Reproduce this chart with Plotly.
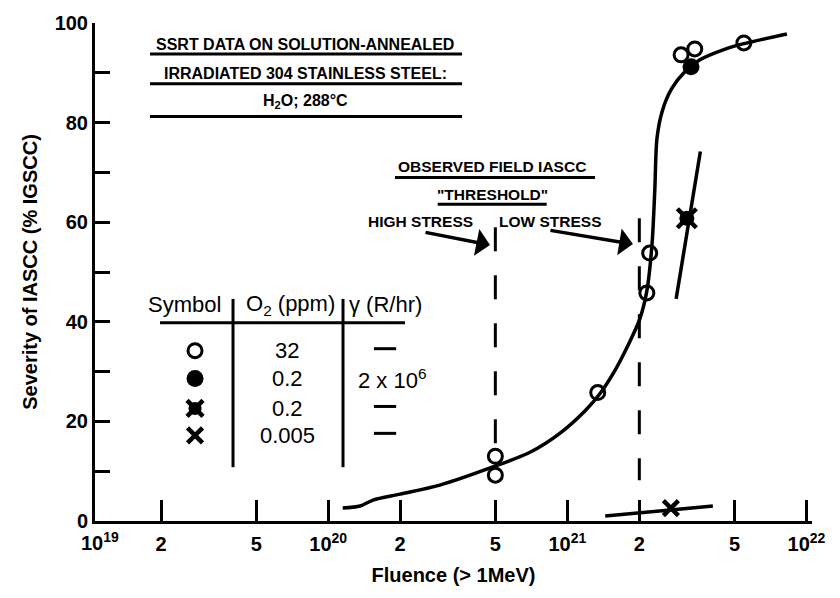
import math
import plotly.graph_objects as go

# ---------------- data ----------------
# fitted trend curve through the 32 ppm O2 data
curve_fluence = [1.15e20, 1.36e20, 1.54e20, 2.0e20, 2.93e20, 4.98e20, 6.98e20, 9.3e20,
                 1.19e21, 1.37e21, 1.58e21, 1.79e21, 2.01e21, 2.15e21, 2.26e21, 2.32e21,
                 2.37e21, 2.49e21, 2.73e21, 3.10e21, 3.58e21, 4.48e21, 5.42e21, 8.28e21]
curve_severity = [2.6, 3.0, 4.2, 5.4, 7.2, 11.0, 13.8, 17.6,
                  22.2, 25.6, 30.2, 35.2, 40.6, 46.2, 55.6, 66.2,
                  76.8, 82.2, 86.8, 90.2, 92.6, 94.6, 95.8, 97.8]

# O2 = 32 ppm (open circles)
o32_fluence = [5.0e20, 5.0e20, 1.34e21, 2.15e21, 2.21e21, 2.99e21, 3.41e21, 5.47e21]
o32_severity = [13.0, 9.2, 25.8, 45.8, 53.8, 93.6, 94.8, 96.0]

# O2 = 0.2 ppm, gamma 2x10^6 R/hr (filled circles)
o02g_fluence = [3.29e21]
o02g_severity = [91.2]

# O2 = 0.2 ppm, no gamma (filled circle with cross)
o02_fluence = [3.16e21]
o02_severity = [60.8]

# O2 = 0.005 ppm (x)
o0005_fluence = [2.71e21]
o0005_severity = [2.6]

# trend lines for the low-O2 data
line02_fluence = [2.85e21, 3.6e21]
line02_severity = [44.6, 74.2]
line0005_fluence = [1.44e21, 4.06e21]
line0005_severity = [1.0, 3.0]

# observed field IASCC thresholds (dashed verticals)
high_stress_fluence = 5.0e20
high_stress_span = [59.0, 14.8]
low_stress_fluence = 2.0e21
low_stress_span = [60.8, 8.2]

# axis ticks
x_tickvals = [2e19, 5e19, 1e20, 2e20, 5e20, 1e21, 2e21, 5e21, 1e22]
x_ticktext = ["2", "5", "10<sup>20</sup>", "2", "5", "10<sup>21</sup>", "2", "5", "10<sup>22</sup>"]
y_tickvals = [0, 20, 40, 60, 80, 100]

# legend table rows
legend_o2 = ["32", "0.2", "0.2", "0.005"]
legend_gamma = ["—", "2 x 10<sup>6</sup>", "—", "—"]

FONT = "Liberation Sans, Arial, Helvetica, sans-serif"
BLACK = "#000000"

# marker styles
OPEN = dict(symbol="circle-open", size=14, color=BLACK, line=dict(width=3, color=BLACK))
FILLED = dict(symbol="circle", size=17, color=BLACK)
CROSS_ARMS = dict(symbol="x-thin-open", size=19, color=BLACK, line=dict(width=4.5, color=BLACK))
CROSS_BODY = dict(symbol="circle", size=15, color=BLACK)
XMARK = dict(symbol="x-thin-open", size=15, color=BLACK, line=dict(width=4.5, color=BLACK))

fig = go.Figure()

# main curve
fig.add_trace(go.Scatter(x=curve_fluence, y=curve_severity, mode="lines",
                         line=dict(color=BLACK, width=3.5, shape="spline", smoothing=0.8),
                         hoverinfo="skip", showlegend=False))
fig.add_trace(go.Scatter(x=line02_fluence, y=line02_severity, mode="lines",
                         line=dict(color=BLACK, width=3.5), showlegend=False))
fig.add_trace(go.Scatter(x=line0005_fluence, y=line0005_severity, mode="lines",
                         line=dict(color=BLACK, width=3.5), showlegend=False))

# dashed threshold lines
for fl, span in [(high_stress_fluence, high_stress_span), (low_stress_fluence, low_stress_span)]:
    fig.add_trace(go.Scatter(x=[fl, fl], y=span, mode="lines",
                             line=dict(color=BLACK, width=3, dash="24px,24px"), showlegend=False))

# markers
fig.add_trace(go.Scatter(x=o32_fluence, y=o32_severity, mode="markers", marker=OPEN, showlegend=False))
fig.add_trace(go.Scatter(x=o02g_fluence, y=o02g_severity, mode="markers", marker=FILLED, showlegend=False))
fig.add_trace(go.Scatter(x=o02_fluence, y=o02_severity, mode="markers", marker=CROSS_ARMS, showlegend=False))
fig.add_trace(go.Scatter(x=o02_fluence, y=o02_severity, mode="markers", marker=CROSS_BODY, showlegend=False))
fig.add_trace(go.Scatter(x=o0005_fluence, y=o0005_severity, mode="markers", marker=XMARK, showlegend=False))

# ---------------- legend table (overlay axes in [0,1] frame) ----------------
leg_x = 0.1395
leg_rows = [0.342, 0.286, 0.226, 0.172]
leg_styles = [[OPEN], [FILLED],
              [dict(CROSS_ARMS, size=16), dict(CROSS_BODY, size=13)],
              [XMARK]]
for ry, styles in zip(leg_rows, leg_styles):
    for st in styles:
        fig.add_trace(go.Scatter(x=[leg_x], y=[ry], mode="markers", marker=st,
                                 xaxis="x2", yaxis="y2", showlegend=False, hoverinfo="skip"))

ann = []
def txt(x, y, s, size, bold=False, xanchor="center"):
    ann.append(dict(x=x, y=y, xref="paper", yref="paper", text=s, showarrow=False,
                    xanchor=xanchor, yanchor="middle",
                    font=dict(family=FONT, size=size, color=BLACK, weight="bold" if bold else "normal")))

# header
txt(0.1255, 0.434, "Symbol", 22)
txt(0.272, 0.434, "O<sub>2</sub> (ppm)", 22)
txt(0.4045, 0.434, "γ (R/hr)", 22)
for ry, o2, g in zip(leg_rows, legend_o2, legend_gamma):
    txt(0.2678, ry, o2, 22)
    if g != "—":
        txt(0.4156, ry, g, 22)

shapes = []
def pline(x0, y0, x1, y1, w=3):
    shapes.append(dict(type="line", xref="paper", yref="paper", x0=x0, y0=y0, x1=x1, y1=y1,
                       line=dict(color=BLACK, width=w)))

pline(0.0907, 0.398, 0.4324, 0.398)          # header underline
pline(0.1925, 0.446, 0.1925, 0.108)          # column separators
pline(0.3459, 0.446, 0.3459, 0.108)
for ry, g in zip(leg_rows, legend_gamma):
    if g == "—":
        pline(0.389, ry + 0.004, 0.420, ry + 0.004)

# title block
txt(0.2929, 0.956, "SSRT DATA ON SOLUTION-ANNEALED", 16, bold=True)
txt(0.2929, 0.898, "IRRADIATED 304 STAINLESS STEEL:", 16, bold=True)
txt(0.2929, 0.842, "H<sub>2</sub>O; 288°C", 16, bold=True)
for yy in [0.938, 0.878, 0.812]:
    pline(0.0767, yy, 0.5119, yy)

# threshold labels
txt(0.5537, 0.712, "OBSERVED FIELD IASCC", 15.5, bold=True)
pline(0.4184, 0.690, 0.6974, 0.690)
txt(0.5537, 0.656, "\"THRESHOLD\"", 15.5, bold=True)
pline(0.478, 0.636, 0.630, 0.636)
txt(0.4533, 0.602, "HIGH STRESS", 15.5, bold=True)
txt(0.6346, 0.602, "LOW STRESS", 15.5, bold=True)

# arrows to the threshold lines
for tip_fl, tip_y, ax, ay in [(4.75e20, 55.4, -66, -13), (1.88e21, 55.6, -84, -14)]:
    ann.append(dict(x=math.log10(tip_fl), y=tip_y, xref="x", yref="y", text="", showarrow=True,
                    ax=ax, ay=ay, arrowhead=1, arrowsize=1.3, arrowwidth=3.5, arrowcolor=BLACK,
                    standoff=0, startstandoff=0))

# 10^19 label at the axis origin
ann.append(dict(x=0.007, y=-0.042, xref="paper", yref="paper", text="10<sup>19</sup>", showarrow=False,
                xanchor="center", yanchor="middle",
                font=dict(family=FONT, size=20, color=BLACK, weight="bold")))

fig.update_layout(
    width=840, height=598,
    margin=dict(l=95, r=28, t=21, b=77),
    paper_bgcolor="white", plot_bgcolor="white",
    showlegend=False,
    font=dict(family=FONT, color=BLACK),
    annotations=ann, shapes=shapes,
    xaxis=dict(type="log", range=[19.025, 22.023], showgrid=False, zeroline=False,
               showline=True, linecolor=BLACK, linewidth=3,
               ticks="inside", ticklen=21, tickwidth=2.5, tickcolor=BLACK,
               tickvals=x_tickvals, ticktext=x_ticktext, ticklabelstandoff=3,
               tickfont=dict(family=FONT, size=20, color=BLACK, weight="bold"),
               title=dict(text="Fluence (> 1MeV)", standoff=14,
                          font=dict(family=FONT, size=20, color=BLACK, weight="bold"))),
    yaxis=dict(range=[0, 100], showgrid=False, zeroline=False,
               showline=True, linecolor=BLACK, linewidth=3,
               ticks="inside", ticklen=15, tickwidth=2.5, tickcolor=BLACK,
               tickvals=y_tickvals,
               minor=dict(dtick=10, ticks="inside", ticklen=15, tickwidth=2.5, tickcolor=BLACK, showgrid=False),
               tickfont=dict(family=FONT, size=20, color=BLACK, weight="bold"),
               title=dict(text="Severity of IASCC (% IGSCC)", standoff=12,
                          font=dict(family=FONT, size=20, color=BLACK, weight="bold"))),
    xaxis2=dict(range=[0, 1], overlaying="x", visible=False, fixedrange=True),
    yaxis2=dict(range=[0, 1], overlaying="y", visible=False, fixedrange=True),
)

fig.write_html("out.html")
